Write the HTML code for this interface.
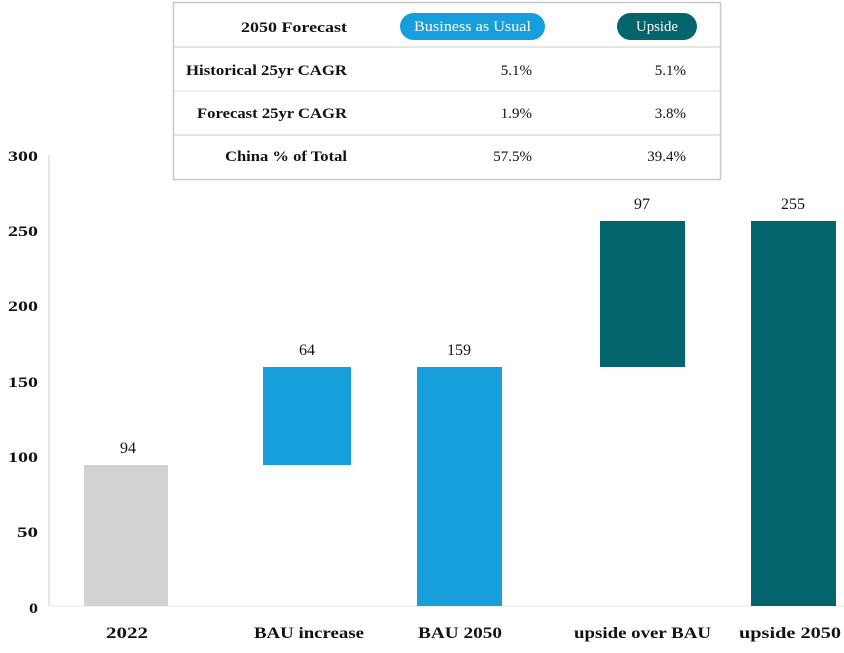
<!DOCTYPE html>
<html><head><meta charset="utf-8"><style>
body{margin:0;background:#fff;width:844px;height:648px;overflow:hidden;font-family:"Liberation Serif",serif;}
</style></head><body>
<svg width="844" height="648" xmlns="http://www.w3.org/2000/svg" font-family="Liberation Serif, serif">
<line x1="49" y1="155" x2="49" y2="606" stroke="#ccc" stroke-width="1"/>
<line x1="49" y1="606" x2="844" y2="606" stroke="#e6e6e6" stroke-width="1"/>
<g font-size="15" font-weight="bold" text-anchor="end" fill="#111" lengthAdjust="spacingAndGlyphs">
<text x="38" y="161" textLength="30" lengthAdjust="spacingAndGlyphs">300</text>
<text x="38" y="236" textLength="30" lengthAdjust="spacingAndGlyphs">250</text>
<text x="38" y="311" textLength="30" lengthAdjust="spacingAndGlyphs">200</text>
<text x="38" y="387" textLength="30" lengthAdjust="spacingAndGlyphs">150</text>
<text x="38" y="462" textLength="30" lengthAdjust="spacingAndGlyphs">100</text>
<text x="38" y="537" textLength="21" lengthAdjust="spacingAndGlyphs">50</text>
<text x="38" y="613" textLength="9" lengthAdjust="spacingAndGlyphs">0</text>
</g>
<rect x="84" y="465" width="84" height="141" fill="#d1d2d4"/>
<rect x="263" y="367" width="88" height="98" fill="#179fdb"/>
<rect x="417" y="367" width="85" height="239" fill="#179fdb"/>
<rect x="600" y="221" width="85" height="146" fill="#03646b"/>
<rect x="751" y="221" width="85" height="385" fill="#03646b"/>
<g font-size="16" text-anchor="middle" fill="#111">
<text x="128" y="453">94</text>
<text x="307" y="355">64</text>
<text x="459" y="355">159</text>
<text x="642" y="209">97</text>
<text x="793" y="209">255</text>
</g>
<g font-size="16" font-weight="bold" fill="#111">
<text x="106" y="638" textLength="42" lengthAdjust="spacingAndGlyphs">2022</text>
<text x="254" y="638" textLength="110" lengthAdjust="spacingAndGlyphs">BAU increase</text>
<text x="418" y="638" textLength="84" lengthAdjust="spacingAndGlyphs">BAU 2050</text>
<text x="574" y="638" textLength="137" lengthAdjust="spacingAndGlyphs">upside over BAU</text>
<text x="739" y="638" textLength="102" lengthAdjust="spacingAndGlyphs">upside 2050</text>
</g>
<rect x="173.5" y="2.5" width="547" height="177" fill="#fff" stroke="#c8c8c8" stroke-width="1.5"/>
<line x1="174" y1="47" x2="720" y2="47" stroke="#ccc"/>
<line x1="174" y1="91" x2="720" y2="91" stroke="#ddd"/>
<line x1="174" y1="135" x2="720" y2="135" stroke="#ccc"/>
<rect x="400" y="13" width="145" height="27" rx="13.5" fill="#179fdb"/>
<rect x="617" y="13" width="80" height="27" rx="13.5" fill="#03646b"/>
<g font-size="15" fill="#fff">
<text x="414" y="31" textLength="117" lengthAdjust="spacingAndGlyphs">Business as Usual</text>
<text x="636" y="31" textLength="42" lengthAdjust="spacingAndGlyphs">Upside</text>
</g>
<g font-size="15" font-weight="bold" fill="#111">
<text x="241" y="32" textLength="106" lengthAdjust="spacingAndGlyphs">2050 Forecast</text>
<text x="186" y="75" textLength="161" lengthAdjust="spacingAndGlyphs">Historical 25yr CAGR</text>
<text x="197" y="118" textLength="150" lengthAdjust="spacingAndGlyphs">Forecast 25yr CAGR</text>
<text x="225" y="161" textLength="122" lengthAdjust="spacingAndGlyphs">China % of Total</text>
</g>
<g font-size="15" text-anchor="end" fill="#111">
<text x="532" y="75">5.1%</text>
<text x="686" y="75">5.1%</text>
<text x="532" y="118">1.9%</text>
<text x="686" y="118">3.8%</text>
<text x="532" y="161">57.5%</text>
<text x="686" y="161">39.4%</text>
</g>
</svg>
</body></html>
